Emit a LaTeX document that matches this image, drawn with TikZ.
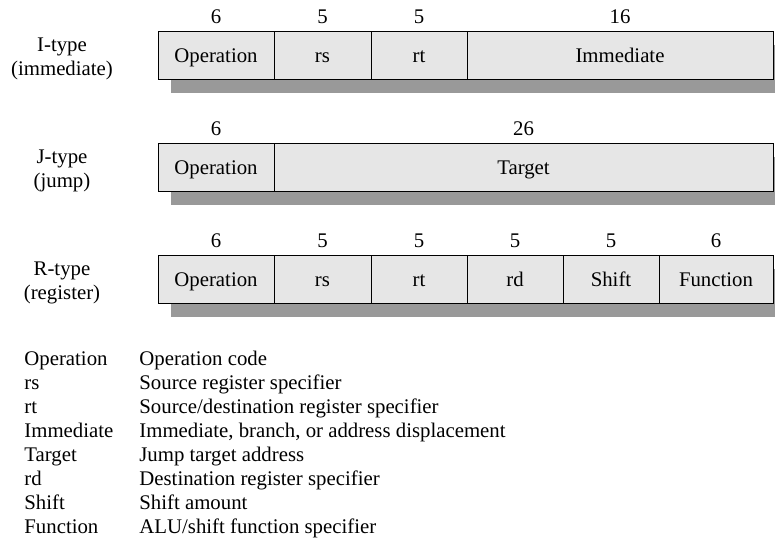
\documentclass[tikz,border=0pt]{standalone}
\usepackage{fontspec}
\setmainfont{Liberation Serif}
\usepackage{xcolor}
\usetikzlibrary{positioning,calc,backgrounds}
\definecolor{fieldgray}{RGB}{230,230,230}
\definecolor{shadowgray}{RGB}{153,153,153}

\begin{document}
\begin{tikzpicture}[x=0.5pt, y=-0.5pt, font=\fontsize{10.4}{12}\selectfont, node distance=4pt]
  \tikzset{field/.style={draw, fill=fieldgray, line width=0.5pt, outer sep=0pt, inner sep=0pt, minimum height=24pt, text height=6.9pt, text depth=0pt},bits/.style={inner sep=0pt},kind/.style={align=center, inner sep=0pt},legend/.style={anchor=base west, inner sep=0pt}}
  \useasboundingbox (0,0) rectangle (775,539);
  % I-type
  \node[kind] (itype) at (62,59) {I-type\\(immediate)};
  \node[field, minimum width=58pt, anchor=north west] (iop) at (158,32) {Operation};
  \node[field, minimum width=48.5pt, right=0pt of iop] (irs) {rs};
  \node[field, minimum width=48pt, right=0pt of irs] (irt) {rt};
  \node[field, minimum width=153pt, right=0pt of irt] (iimm) {Immediate};
  \node[bits, above=of iop] (iopw) {6};
  \node[bits, above=of irs] (irsw) {5};
  \node[bits, above=of irt] (irtw) {5};
  \node[bits, above=of iimm] (iimmw) {16};
  % J-type
  \node[kind] (jtype) at (62,171) {J-type\\(jump)};
  \node[field, minimum width=58pt, anchor=north west] (jop) at (158,144) {Operation};
  \node[field, minimum width=249.5pt, right=0pt of jop] (jtgt) {Target};
  \node[bits, above=of jop] (jopw) {6};
  \node[bits, above=of jtgt] (jtgtw) {26};
  % R-type
  \node[kind] (rtype) at (62,283) {R-type\\(register)};
  \node[field, minimum width=58pt, anchor=north west] (rop) at (158,256) {Operation};
  \node[field, minimum width=48.5pt, right=0pt of rop] (rrs) {rs};
  \node[field, minimum width=48pt, right=0pt of rrs] (rrt) {rt};
  \node[field, minimum width=48pt, right=0pt of rrt] (rrd) {rd};
  \node[field, minimum width=48pt, right=0pt of rrd] (rshift) {Shift};
  \node[field, minimum width=57pt, right=0pt of rshift] (rfunc) {Function};
  \node[bits, above=of rop] (ropw) {6};
  \node[bits, above=of rrs] (rrsw) {5};
  \node[bits, above=of rrt] (rrtw) {5};
  \node[bits, above=of rrd] (rrdw) {5};
  \node[bits, above=of rshift] (rshiftw) {5};
  \node[bits, above=of rfunc] (rfuncw) {6};
  % shadows behind the rows
  \begin{scope}[on background layer]
    \fill[shadowgray] ($(iop.north west)+(13,13)$) rectangle ($(iimm.south east)+(2,13)$);
    \fill[shadowgray] ($(jop.north west)+(13,13)$) rectangle ($(jtgt.south east)+(2,13)$);
    \fill[shadowgray] ($(rop.north west)+(13,13)$) rectangle ($(rfunc.south east)+(2,13)$);
  \end{scope}
  % legend
  \node[legend] (kop) at (24,365) {Operation};
  \node[legend] (dop) at (139,365) {Operation code};
  \node[legend] (krs) at (24,389) {rs};
  \node[legend] (drs) at (139,389) {Source register specifier};
  \node[legend] (krt) at (24,413) {rt};
  \node[legend] (drt) at (139,413) {Source/destination register specifier};
  \node[legend] (kimm) at (24,437) {Immediate};
  \node[legend] (dimm) at (139,437) {Immediate, branch, or address displacement};
  \node[legend] (ktgt) at (24,461) {Target};
  \node[legend] (dtgt) at (139,461) {Jump target address};
  \node[legend] (krd) at (24,485) {rd};
  \node[legend] (drd) at (139,485) {Destination register specifier};
  \node[legend] (kshift) at (24,509) {Shift};
  \node[legend] (dshift) at (139,509) {Shift amount};
  \node[legend] (kfunc) at (24,533) {Function};
  \node[legend] (dfunc) at (139,533) {ALU/shift function specifier};
\end{tikzpicture}
\end{document}
